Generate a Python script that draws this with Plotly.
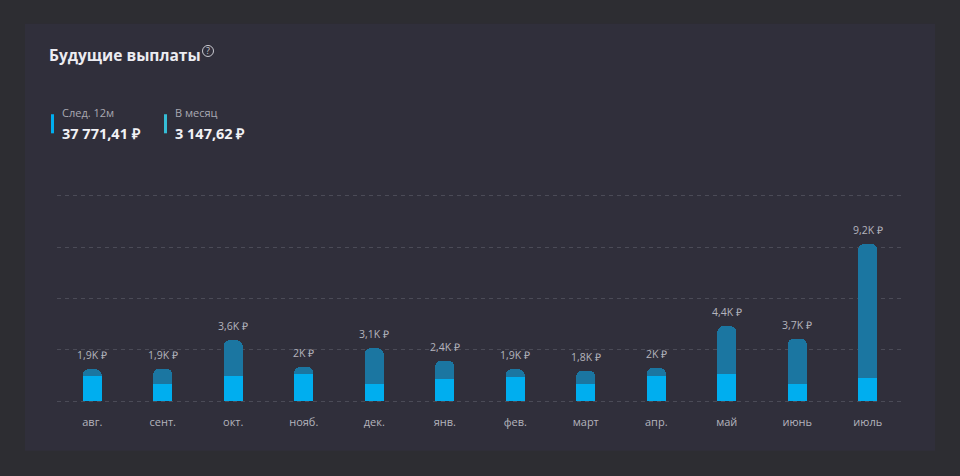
import plotly.graph_objects as go

# ---- data ----
months = ["авг.", "сент.", "окт.", "нояб.", "дек.", "янв.", "фев.", "март", "апр.", "май", "июнь", "июль"]
base_vals = [1500, 1010, 1500, 1570, 1010, 1320, 1440, 1010, 1470, 1570, 1010, 1360]
totals = [1880, 1910, 3570, 2010, 3100, 2380, 1880, 1790, 1960, 4390, 3660, 9180]
extra_vals = [t - b for t, b in zip(totals, base_vals)]
y_ticks = [0, 3000, 6000, 9000, 12000]
title_text = "Будущие выплаты"
kpi_labels = ["След. 12м", "В месяц"]
kpi_values = ["37 771,41 ₽", "3 147,62 ₽"]


def fmt_k(v):
    s = f"{v/1000:.1f}"
    if s.endswith(".0"):
        s = s[:-2]
    return s.replace(".", ",") + "K ₽"


W, H = 960, 476
Y_LO, Y_HI = -150, 12150
BASE_PX, TOP_PX = 401.0, 196.0           # pixel rows of 0 and 12000
PPU = (BASE_PX - TOP_PX) / 12000.0
T = TOP_PX - (Y_HI - 12000) * PPU
B = H - (BASE_PX + (0 - Y_LO) * PPU)
L, R = 57, 57
PW, PH = W - L - R, H - T - B


def px(x):
    return (x - L) / PW


def py(y):
    return (H - B - y) / PH


BG = "#2d2d32"
CARD = "#302f3b"
LIGHT = "#00aeef"
DARK = "#1b76a1"
TXT = "#b4b4bd"
FONT = "Open Sans"

fig = go.Figure()
fig.add_trace(go.Bar(x=months, y=base_vals, marker=dict(color=LIGHT, line=dict(width=0)),
                     hoverinfo="skip"))
fig.add_trace(go.Bar(x=months, y=extra_vals, marker=dict(color=DARK, line=dict(width=0)),
                     hoverinfo="skip"))

shapes = [
    dict(type="rect", xref="paper", yref="paper", x0=px(25), x1=px(935), y0=py(450), y1=py(25),
         fillcolor=CARD, line=dict(width=0), layer="below"),
    dict(type="circle", xref="paper", yref="paper", x0=px(202.5), x1=px(213.5), y0=py(57.5), y1=py(46.5),
         line=dict(color="#c9c9d0", width=1)),
    dict(type="rect", xref="paper", yref="paper", x0=px(51), x1=px(54), y0=py(134), y1=py(115),
         fillcolor=LIGHT, line=dict(width=0)),
    dict(type="rect", xref="paper", yref="paper", x0=px(164), x1=px(167), y0=py(134), y1=py(115),
         fillcolor="#35bdd6", line=dict(width=0)),
]

ann = [
    dict(text=f"<b>{title_text}</b>", x=px(47), y=py(56), xref="paper", yref="paper",
         xanchor="left", yanchor="middle", showarrow=False, font=dict(size=15.5, color="#ececf1", family=FONT)),
    dict(text="?", x=px(208), y=py(52), xref="paper", yref="paper", xanchor="center", yanchor="middle",
         showarrow=False, font=dict(size=9, color="#c9c9d0", family=FONT)),
]
for i, (lab, val) in enumerate(zip(kpi_labels, kpi_values)):
    x0 = 60 if i == 0 else 173
    ann.append(dict(text=lab, x=px(x0), y=py(113), xref="paper", yref="paper", xanchor="left",
                    yanchor="middle", showarrow=False, font=dict(size=11, color="#a9a9b2", family=FONT)))
    ann.append(dict(text=f"<b>{val}</b>", x=px(x0), y=py(134), xref="paper", yref="paper", xanchor="left",
                    yanchor="middle", showarrow=False, font=dict(size=14.5, color="#f2f2f5", family=FONT)))

for m, t in zip(months, totals):
    ann.append(dict(text=fmt_k(t), x=m, y=t, xref="x", yref="y", xanchor="center", yanchor="bottom",
                    yshift=5, showarrow=False, font=dict(size=10.5, color=TXT, family=FONT)))

fig.update_layout(
    width=W, height=H,
    margin=dict(l=L, r=R, t=T, b=B, pad=0),
    paper_bgcolor=BG, plot_bgcolor="rgba(0,0,0,0)",
    barmode="stack", bargap=0.73, barcornerradius=6,
    showlegend=False,
    shapes=shapes, annotations=ann,
    font=dict(family=FONT, color=TXT),
    xaxis=dict(showgrid=False, zeroline=False, showline=False, ticks="",
               tickfont=dict(size=11, color=TXT, family=FONT), ticklabelstandoff=10, fixedrange=True),
    yaxis=dict(range=[Y_LO, Y_HI], tickvals=y_ticks, showticklabels=False, showgrid=True,
               gridcolor="#4b4b57", griddash="4px,4px", gridwidth=1, zeroline=False, showline=False,
               fixedrange=True),
)

fig.write_html("out.html", config={"displayModeBar": False},
               post_script="document.body.style.margin='0';document.body.style.background='%s';" % BG)
